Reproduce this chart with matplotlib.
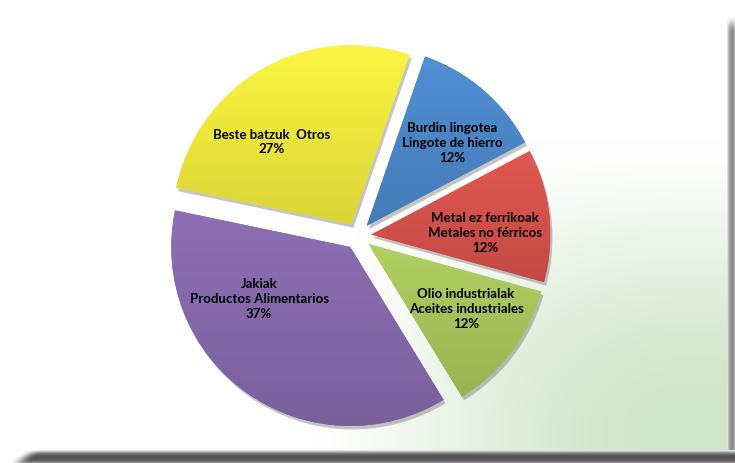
import numpy as np
import matplotlib
matplotlib.use("Agg")
import matplotlib.pyplot as plt
import matplotlib.patheffects as pe

# ---- data ----
categories = ["Burdin lingotea\nLingote de hierro",
              "Metal ez ferrikoak\nMetales no férricos",
              "Olio industrialak\nAceites industriales",
              "Jakiak\nProductos Alimentarios",
              "Beste batzuk  Otros"]
values = [12, 12, 12, 37, 27]
colors = ["#4a86c8", "#d4514a", "#a6c459", "#8468aa", "#eee83c"]

W, H = 735, 464
fig = plt.figure(figsize=(W / 100, H / 100), dpi=100)

# ---- background (white with soft green corner + frame shadow) ----
bg = fig.add_axes([0, 0, 1, 1])
bg.axis("off")
yy, xx = np.mgrid[0:H, 0:W].astype(float)

def smooth(t):
    t = np.clip(t, 0, 1)
    return t * t * (3 - 2 * t)

tx = smooth((xx / W - 0.42) / 0.50)
ty = smooth((yy / H - 0.30) / 0.62)
t = (tx * ty) ** 0.75
green = np.array([207, 229, 201]) / 255.0
img = np.ones((H, W, 3)) * (1 - t[..., None]) + green * t[..., None]

# bottom shadow band
band_prof = {451: 0.88, 452: 0.75, 453: 0.60, 454: 0.48, 455: 0.40, 456: 0.35, 457: 0.33,
             458: 0.32, 459: 0.33, 460: 0.35, 461: 0.39, 462: 0.45, 463: 0.55}
for r, v in band_prof.items():
    start = 8 + (463 - r) * 1.3
    fade = smooth((xx[r] - start) / 20.0)
    img[r] = img[r] * (1 - fade[:, None]) + v * fade[:, None]
# right shadow band
col_prof = {727: 0.88, 728: 0.76, 729: 0.65, 730: 0.58, 731: 0.55, 732: 0.55, 733: 0.58, 734: 0.65}
for c, v in col_prof.items():
    fade = smooth((yy[:451, c] - 15) / 18.0)
    img[:451, c] = img[:451, c] * (1 - fade[:, None]) + v * fade[:, None]

bg.imshow(img, extent=[0, W, H, 0], aspect="auto", interpolation="bilinear")
bg.set_xlim(0, W)
bg.set_ylim(H, 0)

# ---- pie ----
cx, cy, rpx = 358, 237, 179
half = 250
ax = fig.add_axes([(cx - half) / W, (H - cy - half) / H, 2 * half / W, 2 * half / H])
ax.patch.set_alpha(0)
wedges, _ = ax.pie(values, colors=colors, startangle=71, counterclock=False,
                   explode=[0.075] * len(values), radius=1.0,
                   wedgeprops=dict(linewidth=0,
                                   path_effects=[pe.SimplePatchShadow(offset=(1.5, -2.5),
                                                                      shadow_rgbFace=(0.35, 0.35, 0.35),
                                                                      alpha=0.35),
                                                 pe.Normal()]))
lim = half / rpx
ax.set_xlim(-lim, lim)
ax.set_ylim(-lim, lim)
ax.set_aspect("equal")
ax.axis("off")

# soft vertical shading inside each wedge
for w, c in zip(wedges, colors):
    base = np.array(matplotlib.colors.to_rgb(c))
    top = np.clip(base * 1.04 + 0.015, 0, 1)
    bot = base * 0.92
    n = 64
    s = np.linspace(0, 1, n)[:, None]
    grad = (top * (1 - s) + bot * s)[:, None, :]
    bb = w.get_path().get_extents(w.get_patch_transform())
    im = ax.imshow(grad, extent=[bb.x0, bb.x1, bb.y0, bb.y1], origin="upper",
                   aspect="auto", interpolation="bilinear", zorder=w.get_zorder() + 0.1)
    im.set_clip_path(w)

ax.set_xlim(-lim, lim)
ax.set_ylim(-lim, lim)

# ---- labels ----
label_px = [(452, 143), (485, 233), (466, 309), (259, 299), (272, 142)]
for (px, py), cat, v in zip(label_px, categories, values):
    fig.text(px / W, 1 - py / H, f"{cat}\n{v}%", ha="center", va="center",
             multialignment="center", fontsize=9.5, fontweight="bold",
             family=["Lato", "DejaVu Sans"], color="#000000", linespacing=1.28)

fig.savefig("out.png", dpi=100)
